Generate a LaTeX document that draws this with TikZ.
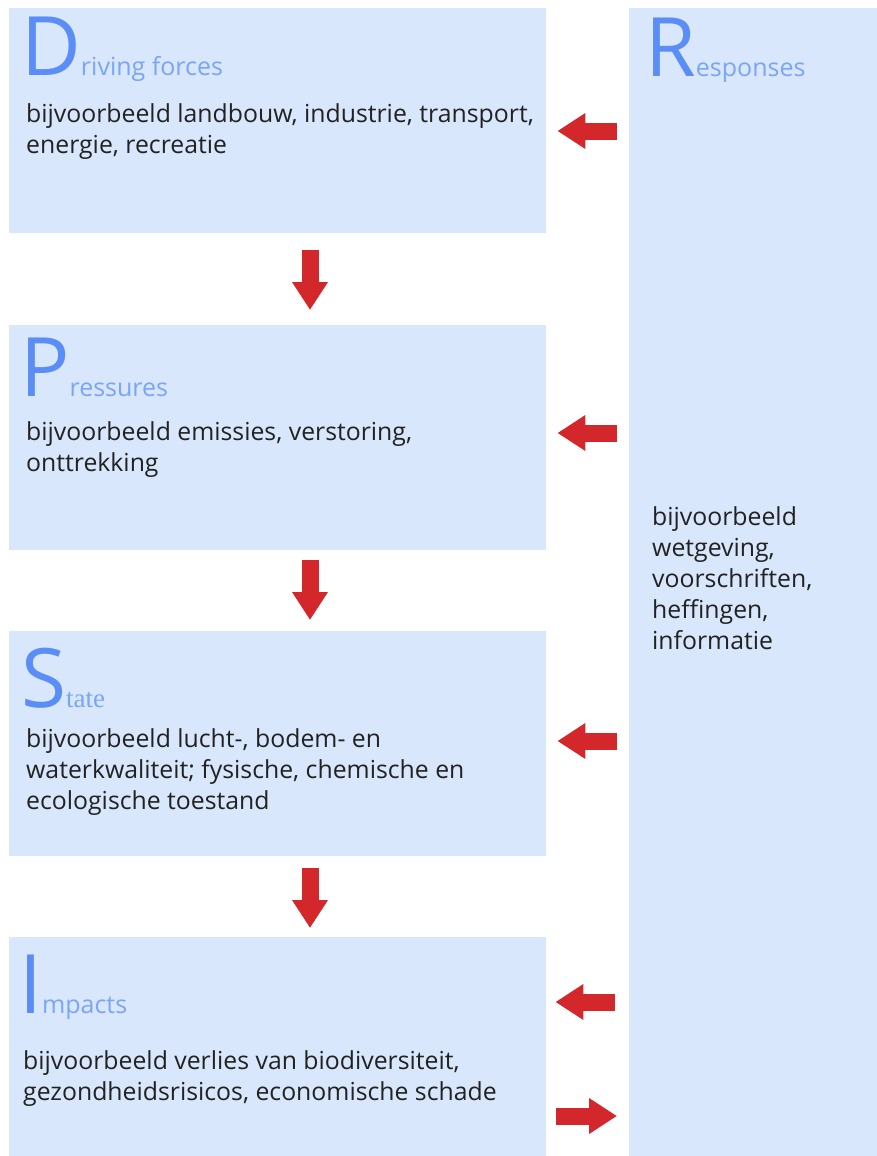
\documentclass[tikz,border=0pt]{standalone}
\usepackage{fontspec}
\setmainfont{Open Sans}
\newfontfamily\serifsub{Liberation Serif}
\usetikzlibrary{arrows.meta}
\definecolor{boxfill}{HTML}{D8E7FB}
\definecolor{bigblue}{HTML}{5B8DF6}
\definecolor{subblue}{HTML}{7BA5F7}
\definecolor{arrred}{HTML}{D3272B}
\definecolor{bodytext}{HTML}{222222}
\tikzset{
  panel/.style={fill=boxfill, draw=none, anchor=north west, inner sep=0pt},
  title/.style={anchor=base west, inner sep=0pt},
  body/.style={anchor=base west, inner sep=0pt, align=left, text=bodytext,
    font=\fontsize{24.8}{30.8}\selectfont},
  redarrow/.style={draw=arrred, line width=17pt,
    -{Triangle[width=34pt,length=28pt]}},
}
\newcommand{\BigLet}[1]{{\color{bigblue}\fontsize{82}{82}\selectfont #1}}
\newcommand{\SubWord}[1]{{\color{subblue}\fontsize{25}{25}\selectfont #1}}
\begin{document}
\begin{tikzpicture}[x=1pt,y=-1pt]
\useasboundingbox (0,0) rectangle (877,1156);
% panels
\node[panel, minimum width=537pt, minimum height=225pt] (d) at (9,8) {};
\node[panel, minimum width=537pt, minimum height=225pt] (p) at (9,325) {};
\node[panel, minimum width=537pt, minimum height=225pt] (s) at (9,631) {};
\node[panel, minimum width=537pt, minimum height=219pt] (i) at (9,937) {};
\node[panel, minimum width=248pt, minimum height=1148pt] (r) at (629,8) {};
% titles
\node[title] (dt) at (21,75) {\BigLet{D}\SubWord{riving forces}};
\node[title] (pt) at (20,396) {\BigLet{P}\SubWord{ressures}};
\node[title] (st) at (21,707) {\BigLet{S}{\color{subblue}\serifsub\fontsize{27}{27}\selectfont tate}};
\node[title] (it) at (19,1013) {\BigLet{I}\SubWord{mpacts}};
\node[title] (rt) at (645,77) {\BigLet{R}\SubWord{esponses}};
% body texts (anchor at baseline of last line)
\node[body] (db) at (26,153) {bijvoorbeeld landbouw, industrie, transport,\\energie, recreatie};
\node[body] (pb) at (26,471) {bijvoorbeeld emissies, verstoring,\\onttrekking};
\node[body] (sb) at (26,809) {bijvoorbeeld lucht-, bodem- en\\waterkwaliteit; fysische, chemische en\\ecologische toestand};
\node[body] (ib) at (23,1100) {bijvoorbeeld verlies van biodiversiteit,\\gezondheidsrisicos, economische schade};
\node[body] (rb) at (652,649) {bijvoorbeeld\\wetgeving,\\voorschriften,\\heffingen,\\informatie};
% vertical arrows
\draw[redarrow, shorten <=17pt, shorten >=15pt] (d.south -| 310,0) -- (p.north -| 310,0);
\draw[redarrow, shorten <=10pt, shorten >=11pt] (p.south -| 310,0) -- (s.north -| 310,0);
\draw[redarrow, shorten <=12pt, shorten >=9pt] (s.south -| 310,0) -- (i.north -| 310,0);
% horizontal arrows
\draw[redarrow, shorten <=12pt, shorten >=11pt] (r.west |- 0,131) -- (d.east |- 0,131);
\draw[redarrow, shorten <=12pt, shorten >=11pt] (r.west |- 0,433) -- (p.east |- 0,433);
\draw[redarrow, shorten <=12pt, shorten >=11pt] (r.west |- 0,741) -- (s.east |- 0,741);
\draw[redarrow, shorten <=14pt, shorten >=9pt] (r.west |- 0,1002) -- (i.east |- 0,1002);
\draw[redarrow, shorten <=10pt, shorten >=12pt] (i.east |- 0,1116) -- (r.west |- 0,1116);
\end{tikzpicture}
\end{document}
